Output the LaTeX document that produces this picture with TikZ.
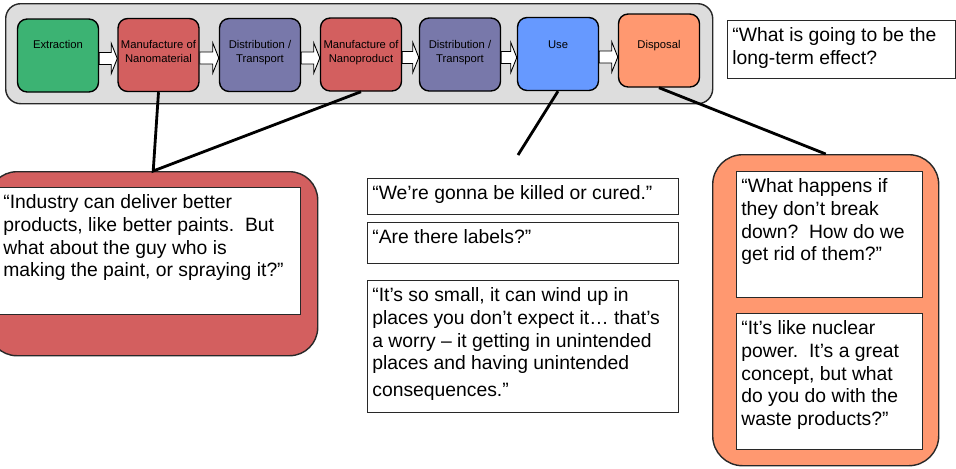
\documentclass[tikz,border=0pt]{standalone}
\usepackage{fontspec}
\setmainfont{Liberation Sans}
\usetikzlibrary{calc}
\definecolor{stGreen}{RGB}{60,179,115}
\definecolor{stRed}{RGB}{211,95,95}
\definecolor{stPurple}{RGB}{120,120,170}
\definecolor{stBlue}{RGB}{102,153,255}
\definecolor{stSalmon}{RGB}{255,152,112}
\definecolor{panelGray}{RGB}{221,221,221}
\definecolor{edgeDark}{RGB}{40,40,40}
\newcommand{\PX}{0.02cm}
\newcommand{\TY}{40}
\newcommand{\stage}[5]{%
  \node[stage, fill=#4] (#1) at (#2,#3) {};
  \node[stagetxt, anchor=north] (#1-t) at (#2,\TY) {#5};}
\newcommand{\flow}[2]{%
  \filldraw[flowarr]
    ($(#1.east)+(0,-3)$) -- ($(#1.east -| #2.west)+(-6,-3)$) -- ($(#1.east -| #2.west)+(-6,-12)$)
    -- ($(#1.east -| #2.west)+(0,3)$) -- ($(#1.east -| #2.west)+(-6,18)$) -- ($(#1.east -| #2.west)+(-6,9)$)
    -- ($(#1.east)+(0,9)$) -- cycle;}
\newcommand{\quotebox}[6]{%
  \node[qbox, minimum width=#4*\PX, minimum height=#5*\PX] (#1) at (#2,#3) {};
  \node[qtxt] (#1-t) at ([shift={(5,7)}]#1.north west) {#6};}

\begin{document}
\begin{tikzpicture}[
    x=\PX, y=-\PX,
    stage/.style={draw=black, line width=0.8pt, rounded corners=5.5pt,
      minimum width=81*\PX, minimum height=73*\PX, inner sep=0pt},
    stagetxt/.style={inner sep=0pt, align=center, font=\fontsize{6.4}{7.9}\selectfont},
    flowarr/.style={fill=white, draw=black, line width=0.5pt, line join=miter},
    qbox/.style={draw=edgeDark, fill=white, line width=0.8pt, anchor=north west, inner sep=0pt},
    qtxt/.style={anchor=north west, inner sep=0pt, align=left, font=\fontsize{11}{13}\selectfont},
    callout/.style={draw=edgeDark, line width=0.8pt, anchor=north west, inner sep=0pt},
    link/.style={draw=black, line width=1.6pt},
  ]
  \useasboundingbox (0,0) rectangle (956,468);

  %% ================= the life cycle chain =================
  \node[callout, fill=panelGray, rounded corners=8.5pt,
    minimum width=707*\PX, minimum height=100*\PX] (chain) at (5,3) {};
  \stage{extr}{58}{55.5}{stGreen}{Extraction}
  \stage{manA}{158.5}{55}{stRed}{Manufacture of\\Nanomaterial}
  \stage{distA}{260}{55}{stPurple}{Distribution /\\Transport}
  \stage{manB}{361}{54.5}{stRed}{Manufacture of\\Nanoproduct}
  \stage{distB}{460}{54.5}{stPurple}{Distribution /\\Transport}
  \stage{use}{558}{54}{stBlue}{Use}
  \stage{disp}{659}{50.5}{stSalmon}{Disposal}
  \flow{extr}{manA}
  \flow{manA}{distA}
  \flow{distA}{manB}
  \flow{manB}{distB}
  \flow{distB}{use}
  \flow{use}{disp}

  \quotebox{qLong}{727}{20}{228}{58}{“What is going to be the\\long-term effect?}

  %% ---- the two speech callouts ----
  \node[callout, fill=stRed, rounded corners=16pt,
    minimum width=329*\PX, minimum height=184*\PX] (callL) at (-12,171) {};
  \node[callout, fill=stSalmon, rounded corners=17pt,
    minimum width=226*\PX, minimum height=311*\PX] (callR) at (712,154) {};

  \draw[link] (manA.south) -- (callL.north) -- (manB.south);
  \coordinate (useEnd) at (518,155);
  \draw[link] (use.south) -- (useEnd);
  \draw[link] (disp.south) -- (callR.north);

  %% ================= the quotes =================
  \quotebox{qPaint}{-2}{187}{302}{127}{“Industry can deliver better\\products, like better paints.\ \ But\\what about the guy who is\\making the paint, or spraying it?”}
  \quotebox{qCure}{367}{178}{311}{36}{“We’re gonna be killed or cured.”}
  \quotebox{qLabel}{367}{222}{311}{41}{“Are there labels?”}
  \quotebox{qSmall}{367}{280}{311}{132}{“It’s so small, it can wind up in\\places you don’t expect it… that’s\\a worry – it getting in unintended\\places and having unintended\\[2pt]consequences.”}
  \quotebox{qBreak}{736}{171}{186}{126}{“What happens if\\they don’t break\\down?\ \ How do we\\get rid of them?”}
  \quotebox{qNuke}{736}{313}{186}{136}{“It’s like nuclear\\power.\ \ It’s a great\\concept, but what\\do you do with the\\waste products?”}

\end{tikzpicture}
\end{document}
